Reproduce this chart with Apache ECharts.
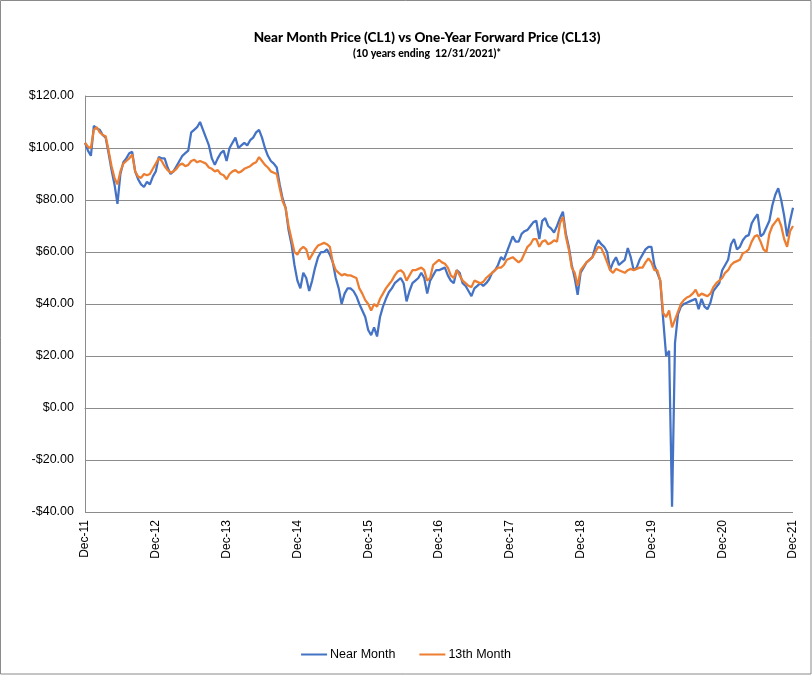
<!DOCTYPE html>
<html>
<head>
<meta charset="utf-8">
<script src="https://cdn.jsdelivr.net/npm/echarts@6/dist/echarts.min.js"></script>
<style>
html,body{margin:0;padding:0;background:#fff;}
#chart{width:812px;height:675px;}
</style>
</head>
<body>
<div id="chart"></div>
<script>
// Half-monthly observations, Dec-2011 through Dec-2021 (241 points)
const tickLabels = ["Dec-11","Dec-12","Dec-13","Dec-14","Dec-15","Dec-16","Dec-17","Dec-18","Dec-19","Dec-20","Dec-21"];
const monthNames = ["Jan","Feb","Mar","Apr","May","Jun","Jul","Aug","Sep","Oct","Nov","Dec"];

const nearMonth = [
102,99,97,108.5,107.5,107,105,104,98,91.5,86,78.5,90,94.5,96,98,98.5,91,88,86,85,87,86,89,91,
96.5,96,96,92.5,90,91,93,95,97,98,99,106,107,108,110,107,104,101,96,93.5,96,98,99,95,
100,102,104,100,101,102,101,103,104,106,107,104,100,97,95,94,92.5,86,80.5,77,68.5,63,55,49,
46,52,50,45,49,54,58,60,60,61,59,56,50,46,40,44,46,46,45,43,40,37.5,35,30,
28,31,27.5,35,39,42,44.5,46,48,49,50,48,41,45,48,49,50,52,50,44,49,51,53,53,
53.5,54,51,49,48,53,52,48,47,45,43,46,47,48,47,48,49.5,52,53,55,58,57,60,63,
66,64,64,67,68,68.5,70,71.5,72,65,72,73,70,69,67.5,70,73,75.5,67,62,55,50,43.5,52,
54,56,57,58,62,64.5,63,62,60,53,56,58,55,56,57,61.5,58,53,54,57,59,61,62,62,
55,52,49,34,20,22,-38,25,36,39,40,40.5,41,41.5,42,38,42,39,38,40.5,45,46.5,48,53,
55,57,63,65,61,62,64.5,66,66.5,71,73,74.5,66,67,69.5,72,78,82,84.5,80,74,66,72,77
];

const month13 = [
102,100.5,100,107,108,106,105,104.5,99,93,88.5,86,91,94,95,96,97.5,91,89,88.5,90,89.5,90,92,94,
96,95,93,91.5,90.5,91,92,93.5,94,93,93.5,95,95.5,94.5,95,94.5,94,92.5,92,91,91.5,90,89.5,88,
90,91,91.5,90.5,91,92,92.5,93,94,94.5,96.5,95,93.5,92.5,91,90.5,90,84.5,79.5,77,70,65,60,59,
61,62,61,57,59,61,62.5,63,63.5,63,62,56,53,52,51,51.5,51,51,50.5,50,46,44,41.5,40,
37.5,40,39,42,44,46,47.5,49,51,52.5,53,52,49,51,53,53,53.5,54,53,49,50,55,56,57,
56,55.5,54,51,50,53,51,49,48,47,46.5,49,48.5,48,48.5,50,51,52,53,54,54,55,57,57.5,
58,57,56,57,59.5,62,63,65,65,62,64,64.5,63,63.5,64.5,64,71,73.5,66,61,54,52,47,53,
54.5,56,57,58,60,62,61.5,59,56,53,52,53.5,53,52.5,52,53,53.5,53,53.5,54,54,56,57.5,56,
53,53,49,36.5,35,37.5,31,34,37,40,41.5,42.5,43,44,45.5,43,44,43.5,43,44,46.5,48,49,50,
52,53,55,56,56.5,57,59.5,60,61,64,66,66.5,64,61,60,67,70,71.5,73,70,65,62,68,70
];

// Build half-month category names: Dec-11 end, then mid/end of each month
const categories = ["Dec-11 end"];
for (let y = 12; y <= 21; y++) {
  for (let m = 0; m < 12; m++) {
    categories.push(monthNames[m] + "-" + y + " mid");
    categories.push(monthNames[m] + "-" + y + " end");
  }
}

const chart = echarts.init(document.getElementById('chart'), null, {renderer: 'canvas'});
const FONT = "Liberation Sans";
const option = {
  backgroundColor: '#ffffff',
  animation: false,
  graphic: [{
    type: 'rect', silent: true, z: -10,
    shape: {x: 0.5, y: 0.5, width: 810.5, height: 673.5},
    style: {fill: 'none', stroke: '#8a8a8a', lineWidth: 1}
  }],
  title: {
    text: 'Near Month Price (CL1) vs One-Year Forward Price (CL13)',
    subtext: '(10 years ending  12/31/2021)*',
    left: 422,
    textAlign: 'center',
    top: 26,
    itemGap: 3,
    textStyle: {fontFamily: "Lato", fontWeight: 900, fontSize: 13.5, color: '#000'},
    subtextStyle: {fontFamily: "Lato", fontWeight: 900, fontSize: 10.5, color: '#000'}
  },
  legend: {
    bottom: 9,
    left: 'center',
    itemWidth: 26,
    itemHeight: 2,
    itemGap: 24,
    icon: 'rect',
    textStyle: {fontFamily: FONT, fontSize: 12.5, color: '#000', padding: [0, 0, 0, -2]},
    data: ['Near Month', '13th Month']
  },
  grid: {left: 85, right: 19, top: 96, bottom: 163, containLabel: false},
  xAxis: {
    type: 'category',
    data: categories,
    boundaryGap: false,
    axisLine: {lineStyle: {color: '#8c8c8c', width: 1}},
    axisTick: {show: false},
    axisLabel: {
      rotate: 90,
      interval: function (idx) { return idx % 24 === 0; },
      formatter: function (val, idx) { return tickLabels[idx / 24]; },
      fontFamily: FONT, fontSize: 12, color: '#000', margin: 8
    },
    splitLine: {show: false}
  },
  yAxis: {
    type: 'value',
    min: -40, max: 120, interval: 20,
    axisLine: {show: true, lineStyle: {color: '#8c8c8c', width: 1}},
    axisTick: {show: false},
    axisLabel: {
      fontFamily: FONT, fontSize: 12.5, color: '#000', margin: 11,
      formatter: function (v) { return (v < 0 ? '-' : '') + '$' + Math.abs(v).toFixed(2); }
    },
    splitLine: {lineStyle: {color: '#8c8c8c', width: 1}}
  },
  series: [
    {
      name: 'Near Month', type: 'line', data: nearMonth, symbol: 'none',
      lineStyle: {color: '#4472C4', width: 2.25}, itemStyle: {color: '#4472C4'}, z: 2
    },
    {
      name: '13th Month', type: 'line', data: month13, symbol: 'none',
      lineStyle: {color: '#ED7D31', width: 2.25}, itemStyle: {color: '#ED7D31'}, z: 3
    }
  ]
};
chart.setOption(option);
</script>
</body>
</html>
